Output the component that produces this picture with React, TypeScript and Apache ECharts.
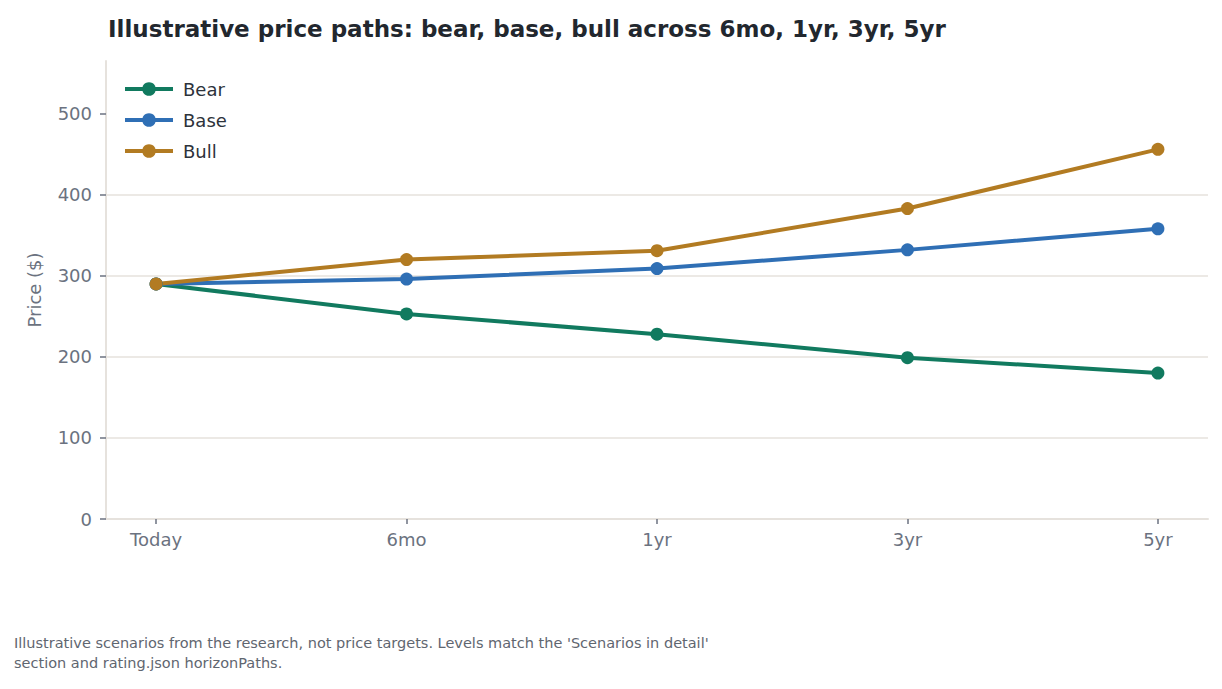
import { useEffect, useRef } from "react";
import * as echarts from "echarts";

const horizons = ["Today", "6mo", "1yr", "3yr", "5yr"];
const bearPath = [290, 253, 228, 199, 180];
const basePath = [290, 296, 309, 332, 358];
const bullPath = [290, 320, 331, 383, 456];
const priceTicks = [0, 100, 200, 300, 400, 500];

const FONT = "'DejaVu Sans', sans-serif";
const GRID_COLOR = "#e6e2dd";
const TICK_COLOR = "#6b7280";

const scenarios = [
  { name: "Bear", values: bearPath, color: "#117a5f" },
  { name: "Base", values: basePath, color: "#2f6fb5" },
  { name: "Bull", values: bullPath, color: "#b27b22" },
];

export default function App() {
  const chartRef = useRef<HTMLDivElement>(null);

  useEffect(() => {
    document.body.style.margin = "0";
    if (!chartRef.current) return;
    const chart = echarts.init(chartRef.current, null, { renderer: "svg" });

    chart.setOption({
      animation: false,
      textStyle: { fontFamily: FONT },
      title: {
        text: "Illustrative price paths: bear, base, bull across 6mo, 1yr, 3yr, 5yr",
        left: 103,
        top: 12,
        textStyle: { fontSize: 23, fontWeight: "bold", color: "#22272e", fontFamily: FONT },
      },
      legend: {
        orient: "vertical",
        left: 118,
        top: 75,
        itemWidth: 48,
        itemHeight: 17,
        itemGap: 13,
        textStyle: { fontSize: 18, color: "#2d333b", fontFamily: FONT, padding: [0, 0, 0, 5] },
        lineStyle: { width: 4 },
        data: scenarios.map((s) => s.name),
      },
      grid: { left: 106, right: 14, top: 61, bottom: 170 },
      xAxis: {
        type: "value",
        min: -0.2,
        max: 4.2,
        axisLine: { show: true, onZero: false, lineStyle: { color: GRID_COLOR, width: 2 } },
        axisTick: {
          show: true,
          customValues: horizons.map((_, i) => i),
          length: 5,
          lineStyle: { color: TICK_COLOR, width: 1.5 },
        },
        axisLabel: {
          customValues: horizons.map((_, i) => i),
          formatter: (v: number) => horizons[Math.round(v)] ?? "",
          fontSize: 18,
          color: TICK_COLOR,
          margin: 11,
          fontFamily: FONT,
        },
        splitLine: { show: false },
      },
      yAxis: {
        type: "value",
        min: 0,
        max: 565,
        interval: 100,
        name: "Price ($)",
        nameLocation: "middle",
        nameGap: 63,
        nameTextStyle: { fontSize: 18, color: TICK_COLOR, fontFamily: FONT },
        axisLine: { show: true, onZero: false, lineStyle: { color: GRID_COLOR, width: 2 } },
        axisTick: {
          show: true,
          customValues: priceTicks,
          length: 6,
          lineStyle: { color: TICK_COLOR, width: 1.5 },
        },
        axisLabel: {
          customValues: priceTicks,
          fontSize: 18,
          color: TICK_COLOR,
          margin: 14,
          fontFamily: FONT,
        },
        splitLine: {
          show: true,
          showMinLine: false,
          showMaxLine: false,
          lineStyle: { color: GRID_COLOR, width: 1.5 },
        },
      },
      series: scenarios.map((s) => ({
        name: s.name,
        type: "line",
        data: s.values.map((v, i) => [i, v]),
        symbol: "circle",
        symbolSize: 13,
        lineStyle: { width: 4, color: s.color },
        itemStyle: { color: s.color },
        emphasis: { disabled: true },
      })),
      graphic: [
        {
          type: "text",
          left: 14,
          top: 633,
          style: {
            text:
              "Illustrative scenarios from the research, not price targets. Levels match the 'Scenarios in detail'\nsection and rating.json horizonPaths.",
            font: `14.5px ${FONT}`,
            fill: "#5f6670",
            lineHeight: 20,
          },
        },
      ],
    });

    return () => chart.dispose();
  }, []);

  return <div ref={chartRef} style={{ width: 1222, height: 689 }} />;
}
